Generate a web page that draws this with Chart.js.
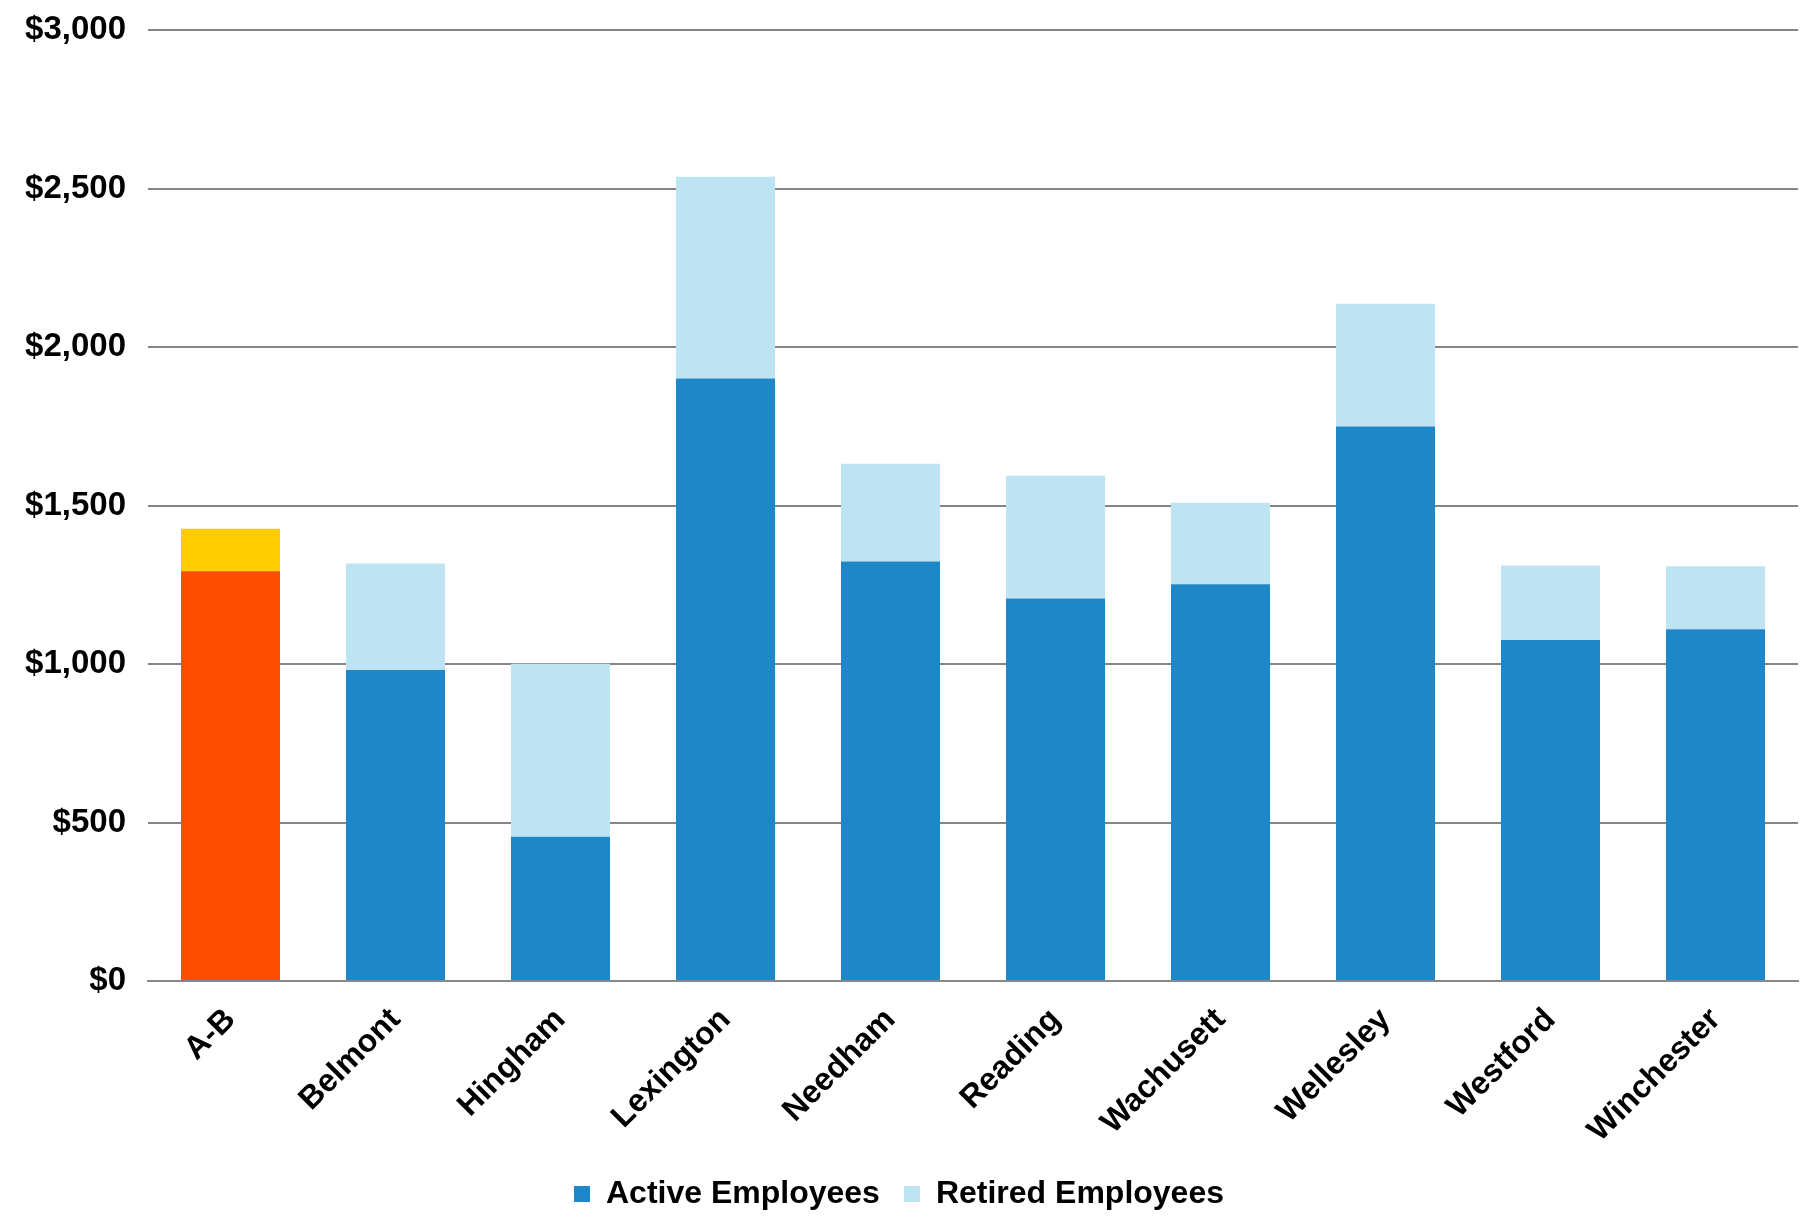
<!DOCTYPE html>
<html>
<head>
  <meta charset="utf-8">
  <title>Health Insurance Cost per Employee</title>
  <script src="https://cdn.jsdelivr.net/npm/chart.js"></script>
  <style>
    html, body { margin:0; padding:0; background:#fff; }
    #wrap { width:1818px; height:1220px; }
  </style>
</head>
<body>
  <div id="wrap"><canvas id="costChart" width="1818" height="1220"></canvas></div>

  <script>
    // districts, A-B first (highlighted)
    const districts = ['A-B', 'Belmont', 'Hingham', 'Lexington', 'Needham', 'Reading', 'Wachusett', 'Wellesley', 'Westford', 'Winchester'];
    const activeCost = [1293, 981, 455, 1901, 1324, 1207, 1252, 1750, 1076, 1110];
    const retiredCost = [134, 336, 546, 637, 308, 387, 257, 387, 235, 199];
    const yTicks = [0, 500, 1000, 1500, 2000, 2500, 3000];

    const BLUE = '#1e87c8';
    const LIGHT = '#bee4f3';
    const ORANGE = '#ff4d00';
    const YELLOW = '#ffcc00';
    const legendColors = [BLUE, LIGHT];

    // A-B gets its own colours, everyone else is blue
    const pick = (hl, normal) => (c) => c.dataIndex === 0 ? hl : normal;

    Chart.defaults.font.family = '"Liberation Sans", Arial, sans-serif';
    Chart.defaults.font.weight = 'bold';
    Chart.defaults.color = '#000';

    const ctx = document.getElementById('costChart').getContext('2d');
    const chart = new Chart(ctx, {
      type: 'bar',
      data: {
        labels: districts,
        datasets: [
          {
            label: 'Active Employees',
            data: activeCost,
            backgroundColor: pick(ORANGE, BLUE),
            categoryPercentage: 0.6,
            barPercentage: 1.0,
          },
          {
            label: 'Retired Employees',
            data: retiredCost,
            backgroundColor: pick(YELLOW, LIGHT),
            categoryPercentage: 0.6,
            barPercentage: 1.0,
          }
        ]
      },
      options: {
        responsive: false,
        animation: false,
        layout: { padding: { left: 0, right: 20, top: 0, bottom: 0 } },
        plugins: {
          tooltip: { enabled: false },
          legend: {
            position: 'bottom',
            labels: {
              font: { size: 32, weight: 'bold' },
              boxWidth: 16,
              boxHeight: 16,
              padding: 24,
              // legend swatches show the regular colours, not the A-B highlight
              generateLabels: (c) => Chart.defaults.plugins.legend.labels.generateLabels(c).map((item, i) => {
                item.fillStyle = legendColors[i];
                item.strokeStyle = legendColors[i];
                item.lineWidth = 0;
                return item;
              })
            }
          }
        },
        scales: {
          x: {
            stacked: true,
            grid: { display: false },
            border: { color: '#888', width: 2 },
            ticks: {
              font: { size: 32, weight: 'bold' },
              maxRotation: 45,
              minRotation: 45,
              padding: 12,
            },
            afterFit: (s) => { s.height = 173; }
          },
          y: {
            stacked: true,
            min: 0,
            max: 3000,
            afterBuildTicks: (s) => { s.ticks = yTicks.map(v => ({ value: v })); },
            grid: { color: '#858585', lineWidth: 2, drawTicks: false },
            border: { display: false },
            ticks: {
              font: { size: 33, weight: 'bold', lineHeight: 0.5 },
              padding: 22,
              callback: (v) => '$' + Number(v).toLocaleString('en-US'),
            },
            afterFit: (s) => { s.width = 148; }
          }
        }
      }
    });
  </script>
</body>
</html>
